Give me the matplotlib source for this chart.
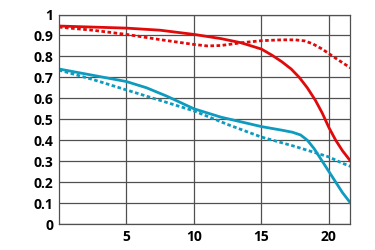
import numpy as np
import matplotlib.pyplot as plt

red_x = [0, 2.5, 5, 7.5, 10, 12, 13.5, 15, 15.8, 16.5, 17.2, 17.8, 18.4, 19, 19.5, 20, 20.5, 21, 21.6]
red_solid = [0.945, 0.94, 0.935, 0.925, 0.905, 0.885, 0.865, 0.835, 0.805, 0.775, 0.74, 0.7, 0.65, 0.59, 0.53, 0.46, 0.4, 0.35, 0.3]

redd_x = [0, 2.5, 5, 7.5, 10, 11, 12, 13.5, 15, 16.5, 17.5, 18.2, 18.8, 19.5, 20.3, 21, 21.6]
red_dash = [0.94, 0.925, 0.905, 0.88, 0.857, 0.85, 0.852, 0.865, 0.875, 0.879, 0.879, 0.874, 0.86, 0.835, 0.8, 0.77, 0.745]

blue_x = [0, 2.5, 5, 6.5, 8, 10, 12, 14, 15, 16.5, 17.3, 17.9, 18.4, 18.9, 19.4, 19.9, 20.5, 21, 21.6]
blue_solid = [0.74, 0.71, 0.68, 0.65, 0.61, 0.55, 0.51, 0.48, 0.465, 0.448, 0.438, 0.425, 0.4, 0.36, 0.31, 0.26, 0.2, 0.15, 0.1]

blued_x = [0, 2.5, 5, 7.5, 10, 12.5, 15, 17.5, 19, 20, 21, 21.6]
blue_dash = [0.735, 0.69, 0.64, 0.59, 0.54, 0.475, 0.415, 0.37, 0.34, 0.32, 0.29, 0.275]

red = '#e10a0a'
blue = '#0e9bc0'

fig, ax = plt.subplots(figsize=(3.75, 2.5), dpi=100)
fig.subplots_adjust(left=0.157, right=0.933, bottom=0.104, top=0.942)

ax.plot(red_x, red_solid, color=red, lw=2)
ax.plot(redd_x, red_dash, color=red, lw=2, ls=(0, (1.3, 0.9)))
ax.plot(blue_x, blue_solid, color=blue, lw=2)
ax.plot(blued_x, blue_dash, color=blue, lw=2, ls=(0, (1.3, 0.9)))

ax.set_xlim(0, 21.55)
ax.set_ylim(0, 1)
ax.set_xticks([5, 10, 15, 20])
ax.set_yticks(np.arange(0, 1.01, 0.1))
ax.set_yticklabels(['0', '0.1', '0.2', '0.3', '0.4', '0.5', '0.6', '0.7', '0.8', '0.9', '1'])
ax.grid(True, color='#505050', lw=0.9)
ax.set_axisbelow(True)
for s in ax.spines.values():
    s.set_color('#505050')
    s.set_linewidth(0.9)
ax.tick_params(length=0, labelsize=10, pad=4)
for lab in ax.get_xticklabels() + ax.get_yticklabels():
    lab.set_fontfamily('Open Sans')
    lab.set_fontweight('bold')

fig.savefig('out.png')
